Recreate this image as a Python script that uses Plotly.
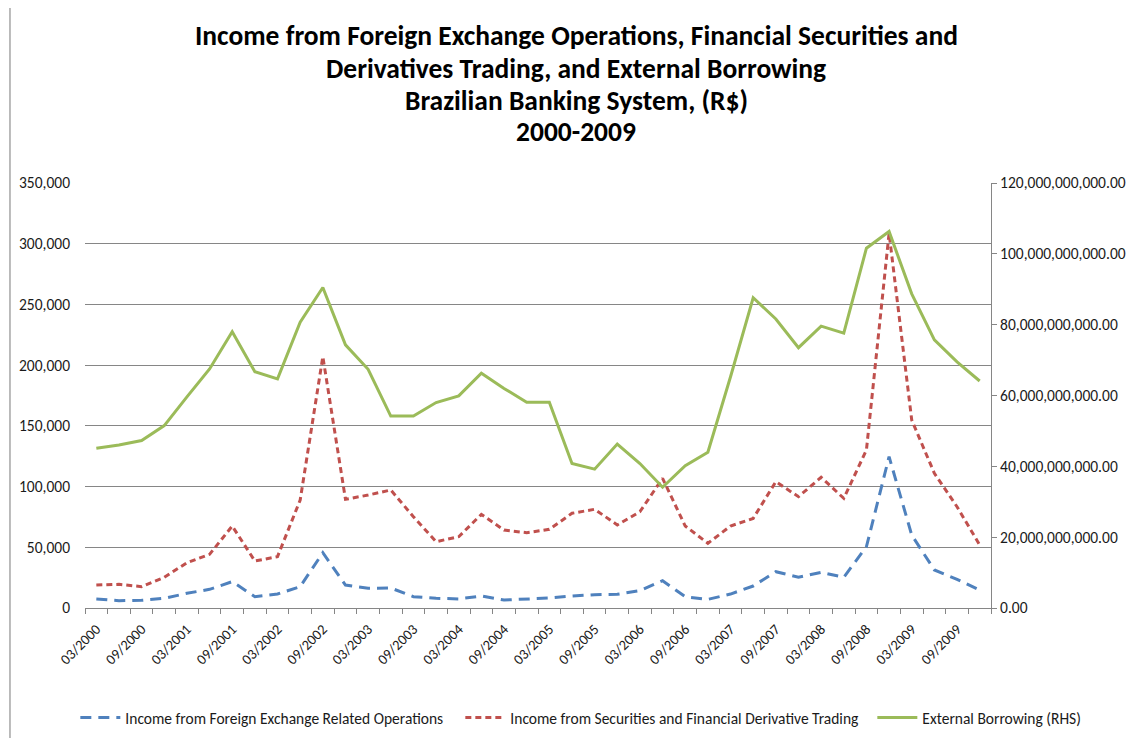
import plotly.graph_objects as go

quarters = []
for yr in range(2000, 2010):
    for m in ["03", "06", "09", "12"]:
        quarters.append(f"{m}/{yr}")

fx_income = [7400, 6000, 6300, 8000, 12100, 15400, 21700, 9300, 11500, 17600,
             45500, 18900, 16200, 16500, 9300, 8000, 7500, 9900, 6600, 7400,
             8200, 9900, 11000, 11300, 14300, 22500, 9300, 7100, 11500, 18100,
             29900, 25300, 29400, 25300, 50500, 124600, 60100, 31300, 23600, 14800]

sec_income = [18900, 19500, 17600, 25300, 37300, 44200, 67500, 38700, 42300, 88900,
              207000, 89500, 93000, 97200, 75200, 54600, 58700, 77100, 64200, 62000,
              64800, 78000, 81300, 68400, 79300, 106800, 67500, 53300, 67500, 73800,
              104000, 91700, 107600, 90300, 130100, 308600, 154800, 110900, 83400, 51900]

ext_borrowing = [45.1, 46.0, 47.3, 51.5, 59.6, 67.5, 78.0, 66.7, 64.7, 80.7,
                 90.5, 74.3, 67.4, 54.2, 54.2, 58.0, 59.9, 66.3, 62.0, 58.1,
                 58.1, 40.8, 39.2, 46.3, 40.8, 34.1, 40.2, 44.0, 65.3, 87.6,
                 81.6, 73.5, 79.6, 77.6, 101.6, 106.3, 88.7, 75.7, 69.5, 64.1]
ext_borrowing = [v * 1e9 for v in ext_borrowing]

left_ticks = [0, 50000, 100000, 150000, 200000, 250000, 300000, 350000]
right_ticks = [0, 20e9, 40e9, 60e9, 80e9, 100e9, 120e9]

names = ["Income from Foreign Exchange Related Operations",
         "Income from Securities and Financial Derivative Trading",
         "External Borrowing (RHS)"]

title_lines = ["Income from Foreign Exchange Operations, Financial Securities and",
               "Derivatives Trading, and External Borrowing",
               "Brazilian Banking System, (R$)",
               "2000-2009"]

FONT = "Carlito, Calibri, Lato, sans-serif"
xs = list(range(len(quarters)))

fig = go.Figure()
fig.add_trace(go.Scatter(x=xs, y=fx_income, name=names[0], mode="lines", legendwidth=330,
                         line=dict(color="#4F81BD", width=3, dash="11px,7px")))
fig.add_trace(go.Scatter(x=xs, y=sec_income, name=names[1], mode="lines", legendwidth=357,
                         line=dict(color="#C0504D", width=3, dash="6px,4px")))
fig.add_trace(go.Scatter(x=xs, y=ext_borrowing, name=names[2], mode="lines", yaxis="y2",
                         legendwidth=158, line=dict(color="#9BBB59", width=3)))

# page body has an 8px margin; targets below are in page pixels
OFF = 8
W, H = 1140, 738
PL, PR, PT, PB = 85, 990.7, 183, 608  # plot area in page pixels
L, T = PL - OFF, PT - OFF
R, B = W - (PR - OFF), H - (PB - OFF)
pw, ph = W - L - R, H - T - B

def px_x(p):
    return (p - OFF - L) / pw

def px_y(p):
    return (H - B - (p - OFF)) / ph

annotations = []
for i, line in enumerate(title_lines):
    annotations.append(dict(
        text=f"<b>{line}</b>", xref="paper", yref="paper",
        x=px_x(576), y=px_y(36 + 32 * i), xanchor="center", yanchor="middle",
        showarrow=False, font=dict(family=FONT, size=27.5, color="#000000")))

fig.update_layout(
    width=W, height=H,
    margin=dict(l=L, r=R, t=T, b=B, autoexpand=False),
    paper_bgcolor="white", plot_bgcolor="white",
    font=dict(family=FONT, size=15, color="#1a1a1a"),
    annotations=annotations,
    xaxis=dict(
        range=[-0.5, len(quarters) - 0.5],
        tickmode="array",
        tickvals=xs[::2], ticktext=quarters[::2],
        tickangle=-45,
        ticks="",
        ticklabelstandoff=6,
        minor=dict(tickmode="linear", tick0=-0.5, dtick=1, ticks="outside",
                   ticklen=5, tickcolor="#868686", showgrid=False),
        showline=True, linecolor="#868686", linewidth=1,
        showgrid=False, zeroline=False, automargin=False,
        tickfont=dict(size=14.5),
    ),
    yaxis=dict(
        range=[0, 350000],
        tickmode="array", tickvals=left_ticks,
        tickformat=",d",
        showgrid=True, gridcolor="#868686", gridwidth=1,
        showline=False, zeroline=False, ticks="", automargin=False,
        ticklabelstandoff=14,
        tickfont=dict(size=15.5),
    ),
    yaxis2=dict(
        range=[0, 120e9],
        overlaying="y", side="right",
        tickmode="array", tickvals=right_ticks,
        tickformat=",.2f",
        showgrid=False, zeroline=False, automargin=False,
        showline=True, linecolor="#868686", linewidth=1,
        ticks="outside", ticklen=5, tickcolor="#868686",
        tickfont=dict(size=15.5),
    ),
    legend=dict(
        orientation="h", xref="paper", yref="paper",
        x=px_x(1085), xanchor="right",
        y=px_y(718), yanchor="middle",
        font=dict(size=15.5),
        itemwidth=40, tracegroupgap=0,
        bgcolor="rgba(0,0,0,0)",
    ),
    showlegend=True,
    shapes=[dict(type="rect", xref="paper", yref="paper",
                 x0=px_x(10), x1=px_x(1170), y0=px_y(770), y1=px_y(5),
                 line=dict(color="#A6A6A6", width=1.5), layer="below")],
)

fig.write_html("out.html")
